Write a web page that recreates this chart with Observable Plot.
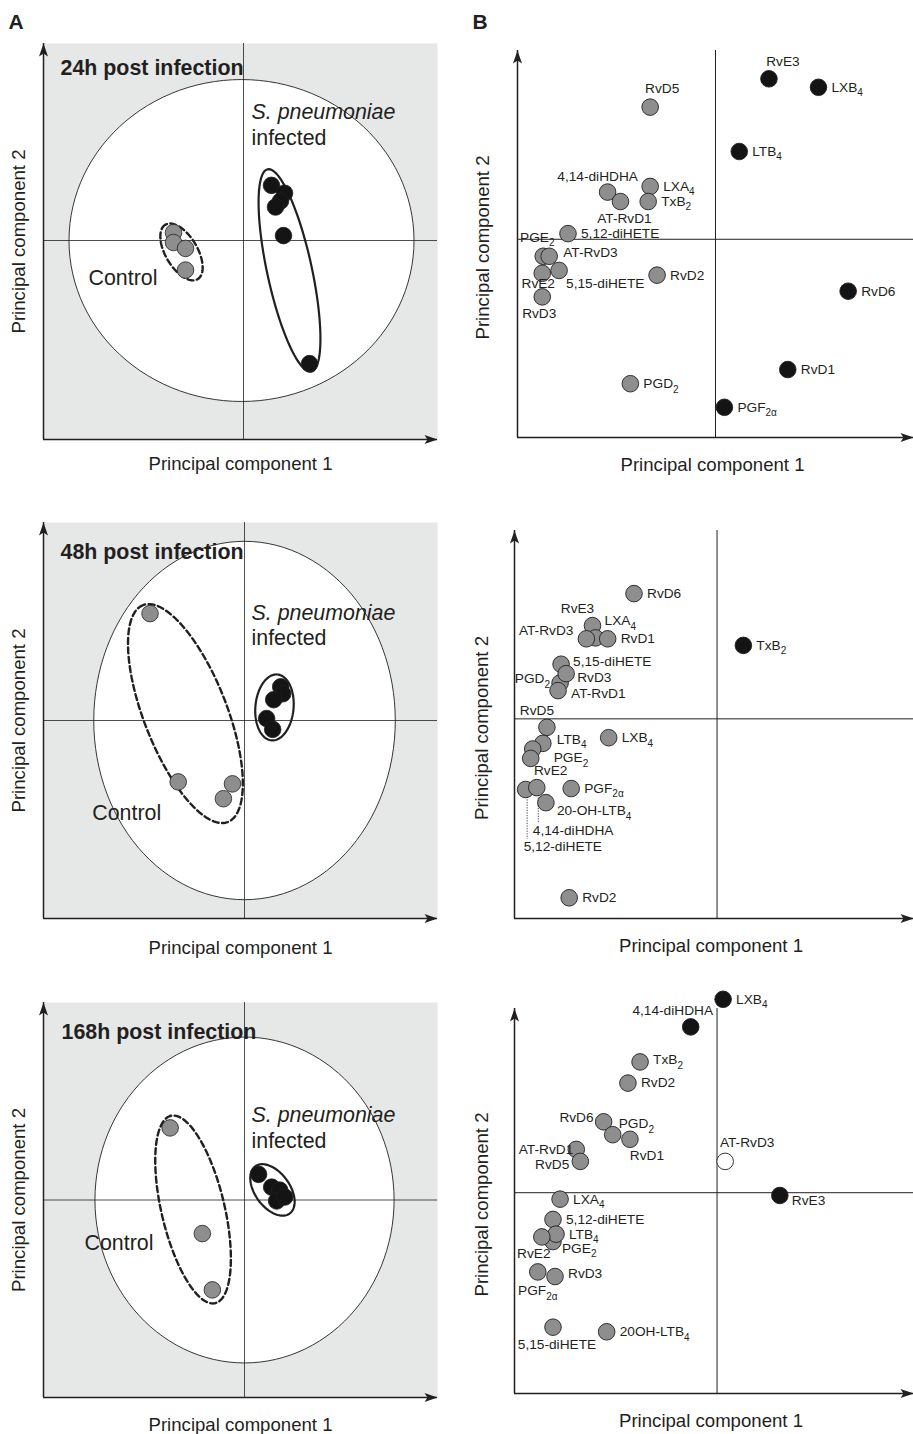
<!DOCTYPE html>
<html>
<head>
<meta charset="utf-8">
<script src="https://cdn.jsdelivr.net/npm/d3@7"></script>
<script src="https://cdn.jsdelivr.net/npm/@observablehq/plot@0.6"></script>
<style>
  body { margin: 0; background: #fff; }
  #fig { position: relative; width: 913px; height: 1434px; overflow: hidden; }
  #fig svg { position: absolute; overflow: visible; }
</style>
</head>
<body>
<div id="fig"></div>
<script>
// ---------------------------------------------------------------
// Data: PCA of lipid mediators in lung after S. pneumoniae infection
// ---------------------------------------------------------------
const timepoints = ["24h", "48h", "168h"];

// Score plots: one [PC1, PC2] pair per animal
const scoresControl = [
  [[-0.35, 0.04], [-0.35, -0.01], [-0.29, -0.04], [-0.29, -0.15]],
  [[-0.47, 0.54], [-0.33, -0.31], [-0.06, -0.32], [-0.105, -0.395]],
  [[-0.37, 0.365], [-0.21, -0.17], [-0.16, -0.455]]
];
const scoresInfected = [
  [[0.14, 0.28], [0.205, 0.24], [0.185, 0.20], [0.16, 0.17], [0.20, 0.025], [0.33, -0.625]],
  [[0.18, 0.17], [0.19, 0.135], [0.145, 0.105], [0.11, 0.01], [0.14, -0.045]],
  [[0.07, 0.13], [0.135, 0.065], [0.175, 0.05], [0.16, -0.005], [0.20, 0.015]]
];

// Ellipses: [centre PC1, centre PC2, semi-axis a, semi-axis b, angle of a (deg)]
const hotellingT2 = [[-0.01, 0, 0.8625, 0.817, 0], [0, 0, 0.75, 0.905, 0], [0, 0, 0.744, 0.825, 0]];
const controlEllipse = [[-0.31, -0.058, 0.16, 0.08, 120], [-0.294, 0.035, 0.587, 0.207, 111], [-0.256, -0.048, 0.487, 0.157, 103]];
const infectedEllipse = [[0.23, -0.152, 0.525, 0.112, 102], [0.149, 0.066, 0.167, 0.095, 85], [0.139, 0.051, 0.147, 0.087, 125]];

// Loading plots ("_" marks a subscript); group: i = infected, c = control, n = neither
const mediators24 = ["RvD5", "RvE3", "LXB_4", "LTB_4", "4,14-diHDHA", "AT-RvD1", "LXA_4", "TxB_2", "5,12-diHETE", "PGE_2", "AT-RvD3", "RvE2", "5,15-diHETE", "RvD2", "RvD3", "RvD6", "RvD1", "PGD_2", "PGF_2α"];
const pc1_24 = [-0.33, 0.27, 0.52, 0.12, -0.545, -0.48, -0.33, -0.34, -0.745, -0.87, -0.84, -0.875, -0.79, -0.295, -0.875, 0.67, 0.365, -0.43, 0.045];
const pc2_24 = [0.70, 0.85, 0.805, 0.465, 0.25, 0.20, 0.28, 0.20, 0.03, -0.09, -0.09, -0.18, -0.165, -0.19, -0.305, -0.275, -0.69, -0.765, -0.89];
const group24 = ["c", "i", "i", "i", "c", "c", "c", "c", "c", "c", "c", "c", "c", "c", "c", "i", "i", "c", "i"];

const mediators48 = ["RvD6", "RvE3", "LXA_4", "AT-RvD3", "RvD1", "5,15-diHETE", "PGD_2", "RvD3", "AT-RvD1", "RvD5", "LTB_4", "PGE_2", "RvE2", "LXB_4", "5,12-diHETE", "4,14-diHDHA", "20-OH-LTB_4", "PGF_2α", "RvD2", "TxB_2"];
const pc1_48 = [-0.41, -0.615, -0.60, -0.645, -0.54, -0.77, -0.775, -0.745, -0.785, -0.84, -0.86, -0.91, -0.92, -0.535, -0.945, -0.89, -0.845, -0.72, -0.73, 0.13];
const pc2_48 = [0.665, 0.495, 0.43, 0.425, 0.425, 0.29, 0.19, 0.24, 0.15, -0.045, -0.13, -0.16, -0.21, -0.10, -0.375, -0.365, -0.445, -0.37, -0.95, 0.39];
const group48 = ["c", "c", "c", "c", "c", "c", "c", "c", "c", "c", "c", "c", "c", "c", "c", "c", "c", "c", "c", "i"];

const mediators168 = ["LXB_4", "4,14-diHDHA", "TxB_2", "RvD2", "RvD6", "PGD_2", "RvD1", "AT-RvD1", "RvD5", "AT-RvD3", "RvE3", "LXA_4", "5,12-diHETE", "PGE_2", "LTB_4", "RvE2", "PGF_2α", "RvD3", "5,15-diHETE", "20OH-LTB_4"];
const pc1_168 = [0.03, -0.13, -0.38, -0.44, -0.56, -0.515, -0.43, -0.695, -0.675, 0.04, 0.31, -0.775, -0.81, -0.81, -0.795, -0.865, -0.885, -0.80, -0.81, -0.545];
const pc2_168 = [1.05, 0.90, 0.71, 0.595, 0.385, 0.315, 0.29, 0.235, 0.17, 0.17, -0.015, -0.035, -0.145, -0.265, -0.225, -0.24, -0.43, -0.455, -0.73, -0.755];
const group168 = ["i", "i", "c", "c", "c", "c", "c", "c", "c", "n", "i", "c", "c", "c", "c", "c", "c", "c", "c", "c"];

const mediators = [mediators24, mediators48, mediators168];
const pc1 = [pc1_24, pc1_48, pc1_168];
const pc2 = [pc2_24, pc2_48, pc2_168];
const groups = [group24, group48, group168];

// ---------------------------------------------------------------
// Styling and layout
// ---------------------------------------------------------------
const font = '"Liberation Sans", Arial, Helvetica, sans-serif';
const ink = "#231f20";
const dotColor = {i: "#141414", c: "#8e8e8e", n: "#ffffff"};
const axisTitleSize = 18.6;

const scoreLayout = [
  {top: 0,   mt: 43, mb: 39, x: [-1, 0.97], y: [-1.01, 1], xl: 25,   title: [17, 24.2], species: [208, 69.1],  infected: [208, 95.1],  control: [45, 235.1]},
  {top: 478, mt: 44, mb: 38, x: [-1, 0.96], y: [-1, 1],    xl: 29.5, title: [17, 29.6], species: [208, 90.4],  infected: [208, 116.1], control: [48.7, 291.1]},
  {top: 956, mt: 46, mb: 37, x: [-1, 0.96], y: [-1, 1],    xl: 27.2, title: [18, 29.6], species: [208, 112.8], infected: [208, 138.4], control: [41, 241.1]}
];
const loadingLayout = [
  {top: 0,   mt: 50, mb: 41, ml: 61, x: [-1, 1],    y: [-1.05, 1], yl: -34.9},
  {top: 478, mt: 52, mb: 38, ml: 58, x: [-1, 0.97], y: [-1.06, 1], yl: -32},
  {top: 956, mt: 52, mb: 41, ml: 58, x: [-1, 0.97], y: [-1.09, 1], yl: -32}
];

// label offsets from the dot: [dx, dy, anchor]; anything not listed sits to the right
const labelPlacement = [
  {"RvD5": [12, -19, "middle"], "RvE3": [14, -17, "middle"], "4,14-diHDHA": [-10, -15, "middle"],
   "AT-RvD1": [4, 17, "middle"], "PGE_2": [-6, -19, "middle"], "AT-RvD3": [14, -4, "start"],
   "RvE2": [-4, 10, "middle"], "5,15-diHETE": [7, 13, "start"], "RvD3": [-3, 17, "middle"]},
  {"RvE3": [-15, -17, "middle"], "LXA_4": [9, -17, "start"], "AT-RvD3": [-13, -8, "end"],
   "5,15-diHETE": [12, -3, "start"], "RvD3": [11, 4, "start"], "PGD_2": [-10, -4, "end"],
   "AT-RvD1": [13, 3, "start"], "RvD5": [-10, -17, "middle"], "LTB_4": [14, -4, "start"],
   "PGE_2": [21, 9, "start"], "RvE2": [20, 12, "middle"], "5,12-diHETE": [-2, 57, "start"],
   "4,14-diHDHA": [-4, 43, "start"], "20-OH-LTB_4": [11, 8, "start"]},
  {"4,14-diHDHA": [-18, -16, "middle"], "TxB_2": [13, -2, "start"], "RvD6": [-10, -4, "end"],
   "PGD_2": [6, -11, "start"], "RvD1": [17, 16, "middle"], "AT-RvD1": [-3, 0, "end"],
   "RvD5": [-11, 3, "end"], "AT-RvD3": [22, -19, "middle"], "RvE3": [12, 5, "start"],
   "PGE_2": [9, 7, "start"], "RvE2": [-8, 17, "middle"], "PGF_2α": [0, 19, "middle"],
   "RvD3": [13, -3, "start"], "5,15-diHETE": [4, 17, "middle"]}
];
// dotted leader lines (length in px below the dot)
const leaders = [{}, {"5,12-diHETE": 50, "4,14-diHDHA": 36}, {}];

// filled, notched arrowheads for the axis ends
const arrowUp = {draw(c) { c.moveTo(0, 0); c.lineTo(-4.5, 13); c.lineTo(0, 10); c.lineTo(4.5, 13); c.closePath(); }};
const arrowRight = {draw(c) { c.moveTo(0, 0); c.lineTo(-13, -4.5); c.lineTo(-10, 0); c.lineTo(-13, 4.5); c.closePath(); }};

const fig = document.getElementById("fig");

function ellipsePoints([cx, cy, a, b, deg]) {
  const t = deg * Math.PI / 180;
  return d3.range(0, 360, 3).map(k => {
    const u = k * Math.PI / 180;
    return {
      pc1: cx + a * Math.cos(u) * Math.cos(t) - b * Math.sin(u) * Math.sin(t),
      pc2: cy + a * Math.cos(u) * Math.sin(t) + b * Math.sin(u) * Math.cos(t)
    };
  });
}
const toPoints = pairs => pairs.map(([a, b]) => ({pc1: a, pc2: b}));

function axesMarks(x, y) {
  return [
    Plot.ruleX([x[0]], {stroke: ink, strokeWidth: 1.5}),
    Plot.ruleY([y[0]], {stroke: ink, strokeWidth: 1.5}),
    Plot.dot([{pc1: x[0], pc2: y[1]}], {x: "pc1", y: "pc2", symbol: arrowUp, r: 5, fill: ink, stroke: "none"}),
    Plot.dot([{pc1: x[1], pc2: y[0]}], {x: "pc1", y: "pc2", symbol: arrowRight, r: 5, fill: ink, stroke: "none"})
  ];
}

// axis titles, centred on the frame
function axisTitles(dyBottom, dxLeft, dyLeft, dxBottom) {
  return [
    Plot.text(["Principal component 1"], {text: d => d, frameAnchor: "bottom", lineAnchor: "middle", textAnchor: "middle", dy: dyBottom, dx: dxBottom, fontSize: axisTitleSize, fill: ink}),
    Plot.text(["Principal component 2"], {text: d => d, frameAnchor: "left", lineAnchor: "middle", textAnchor: "middle", rotate: -90, dx: dxLeft, dy: dyLeft, fontSize: axisTitleSize, fill: ink})
  ];
}

function subscripts(svg) {
  svg.querySelectorAll("text").forEach(t => {
    if (t.children.length) return;
    const s = t.textContent, k = s.indexOf("_");
    if (k < 0) return;
    t.textContent = s.slice(0, k);
    const sub = document.createElementNS("http://www.w3.org/2000/svg", "tspan");
    sub.setAttribute("dy", "4.5");
    sub.setAttribute("font-size", "10");
    sub.textContent = s.slice(k + 1);
    t.appendChild(sub);
  });
}

function place(svg, left, top) {
  svg.style.left = left + "px";
  svg.style.top = top + "px";
  fig.appendChild(svg);
}

// text placed from the top-left corner of the frame
const cornerText = (s, pos, opts) => Plot.text([s], {
  text: d => d, frameAnchor: "top-left", lineAnchor: "middle", textAnchor: "start",
  dx: pos[0], dy: pos[1], fill: ink, ...opts
});

// ---------------- score plots (column A) ----------------
timepoints.forEach((tp, i) => {
  const L = scoreLayout[i];
  const marks = [
    Plot.frame({fill: "#e6e7e7", stroke: "none"}),
    Plot.line(ellipsePoints(hotellingT2[i]), {x: "pc1", y: "pc2", curve: "linear-closed", fill: "white", stroke: ink, strokeWidth: 0.9}),
    Plot.ruleX([0], {stroke: ink, strokeWidth: 0.8}),
    Plot.ruleY([0], {stroke: ink, strokeWidth: 0.8}),
    ...axesMarks(L.x, L.y),
    Plot.line(ellipsePoints(controlEllipse[i]), {x: "pc1", y: "pc2", curve: "linear-closed", stroke: ink, strokeWidth: 2.4, strokeDasharray: "6,3.5"}),
    Plot.line(ellipsePoints(infectedEllipse[i]), {x: "pc1", y: "pc2", curve: "linear-closed", stroke: ink, strokeWidth: 2.2}),
    Plot.dot(toPoints(scoresControl[i]), {x: "pc1", y: "pc2", r: 8.3, fill: dotColor.c, stroke: ink, strokeWidth: 0.8}),
    Plot.dot(toPoints(scoresInfected[i]), {x: "pc1", y: "pc2", r: 8.3, fill: dotColor.i, stroke: ink, strokeWidth: 0.8}),
    cornerText(`${tp} post infection`, L.title, {fontSize: 21.4, fontWeight: "bold"}),
    cornerText("S. pneumoniae", L.species, {fontSize: 21.4, fontStyle: "italic"}),
    cornerText("infected", L.infected, {fontSize: 21.4}),
    cornerText("Control", L.control, {fontSize: 21.4}),
    ...axisTitles(L.xl, -24, 0, 0)
  ];
  if (i === 0) marks.push(cornerText("A", [-35, -21.7], {fontSize: 21, fontWeight: "bold"}));
  const svg = Plot.plot({
    width: 456, height: 478,
    marginLeft: 43, marginRight: 19, marginTop: L.mt, marginBottom: L.mb,
    x: {domain: L.x, axis: null},
    y: {domain: L.y, axis: null},
    style: {fontFamily: font, background: "transparent", overflow: "visible"},
    marks
  });
  place(svg, 0, L.top);
});

// ---------------- loading plots (column B) ----------------
timepoints.forEach((tp, i) => {
  const L = loadingLayout[i];
  const rows = mediators[i].map((name, k) => ({name, pc1: pc1[i][k], pc2: pc2[i][k], group: groups[i][k]}));
  const pxPerUnit = (478 - L.mt - L.mb) / (L.y[1] - L.y[0]);
  const lead = leaders[i];
  const labels = rows.map(d => {
    const [dx, dy, anchor] = labelPlacement[i][d.name] || [13, 0, "start"];
    return Plot.text([d], {x: "pc1", y: "pc2", text: "name", dx, dy, textAnchor: anchor, fontSize: 13.7, fill: ink});
  });
  const marks = [
    Plot.ruleX([0], {stroke: ink, strokeWidth: 1}),
    Plot.ruleY([0], {stroke: ink, strokeWidth: 1}),
    ...axesMarks(L.x, L.y),
    Plot.ruleX(rows.filter(d => lead[d.name]), {x: "pc1", y1: "pc2", y2: d => d.pc2 - lead[d.name] / pxPerUnit, dx: 1.5, stroke: ink, strokeWidth: 0.8, strokeDasharray: "1.3,1.3"}),
    Plot.dot(rows, {x: "pc1", y: "pc2", r: 8.3, fill: d => dotColor[d.group], stroke: ink, strokeWidth: 0.9}),
    ...labels,
    ...axisTitles(27.9, L.yl, 3.5, -3)
  ];
  if (i === 0) marks.push(cornerText("B", [-45, -28.7], {fontSize: 21, fontWeight: "bold"}));
  const svg = Plot.plot({
    width: 457, height: 478,
    marginLeft: L.ml, marginRight: 0, marginTop: L.mt, marginBottom: L.mb,
    x: {domain: L.x, axis: null},
    y: {domain: L.y, axis: null},
    color: {type: "identity"},
    style: {fontFamily: font, background: "transparent", overflow: "visible"},
    marks
  });
  subscripts(svg);
  place(svg, 456, L.top);
});
</script>
</body>
</html>
